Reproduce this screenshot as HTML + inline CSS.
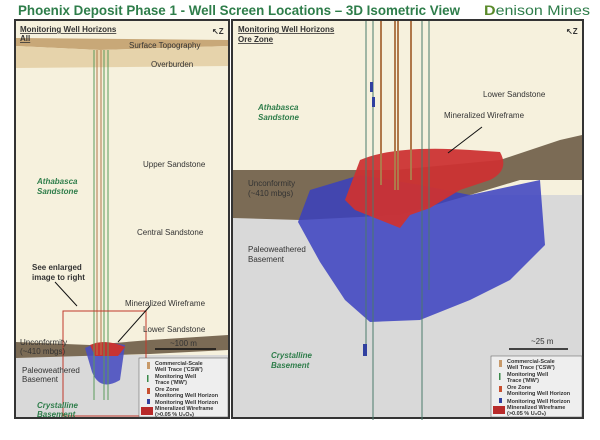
<!DOCTYPE html>
<html><head><style>
body{margin:0;width:600px;height:435px;background:#fff;overflow:hidden;font-family:"Liberation Sans",sans-serif}
</style></head><body>
<svg width="600" height="435" viewBox="0 0 600 435" xmlns="http://www.w3.org/2000/svg" font-family="Liberation Sans, sans-serif">
<text x="18" y="15" font-size="14" font-weight="bold" fill="#2e7d4a" textLength="442" lengthAdjust="spacingAndGlyphs">Phoenix Deposit Phase 1 - Well Screen Locations – 3D Isometric View</text>
<text x="484" y="15" font-size="14" fill="#2e7d4a" textLength="106" lengthAdjust="spacingAndGlyphs"><tspan font-weight="bold" fill="#5a8a2a">D</tspan>enison Mines</text>
<!-- left panel -->
<rect x="14" y="19" width="216" height="400" fill="#333"/>
<rect x="16" y="21" width="212" height="396" fill="#f6f1dd"/>
<path d="M16 38 L228 40 L228 46 L100 50 L16 46Z" fill="#c8a878"/>
<path d="M16 46 L100 50 L228 46 L228 66 L16 68Z" fill="#e6d3ab"/>
<rect x="16" y="355" width="212" height="62" fill="#d9d9d9"/>
<path d="M16 342 L90 345 L150 340 L228 335 L228 350 L150 354 L16 358Z" fill="#7b6b55"/>
<path d="M85 348 Q100 340 125 345 L120 380 Q100 392 92 372Z" fill="#4a4fc0" opacity="0.9"/>
<path d="M90 345 Q105 338 125 347 L118 356 L95 356Z" fill="#c73333"/>
<g stroke-width="1"><line x1="94" y1="50" x2="94" y2="400" stroke="#5a9a5a"/><line x1="97" y1="50" x2="97" y2="355" stroke="#b0784a"/><line x1="101" y1="50" x2="101" y2="355" stroke="#b0784a"/><line x1="104" y1="50" x2="104" y2="400" stroke="#5a9a5a"/><line x1="108" y1="50" x2="108" y2="400" stroke="#5a9a5a"/></g>
<rect x="63" y="311" width="83" height="105" fill="none" stroke="#c0392b" stroke-width="1"/>
<line x1="55" y1="282" x2="77" y2="306" stroke="#111"/>
<line x1="150" y1="306" x2="118" y2="342" stroke="#111"/>
<text x="20" y="32" font-size="8" font-weight="bold" fill="#333" text-decoration="underline">Monitoring Well Horizons</text>
<text x="20" y="41" font-size="8" font-weight="bold" fill="#333" text-decoration="underline">All</text>
<text x="129" y="48" font-size="8" fill="#333">Surface Topography</text>
<text x="151" y="67" font-size="8" fill="#333">Overburden</text>
<text x="143" y="167" font-size="8" fill="#333">Upper Sandstone</text>
<text x="37" y="184" font-size="8" font-weight="bold" font-style="italic" fill="#2e7d4a">Athabasca</text>
<text x="37" y="194" font-size="8" font-weight="bold" font-style="italic" fill="#2e7d4a">Sandstone</text>
<text x="137" y="235" font-size="8" fill="#333">Central Sandstone</text>
<text x="32" y="270" font-size="8" font-weight="bold" fill="#333">See enlarged</text>
<text x="32" y="280" font-size="8" font-weight="bold" fill="#333">image to right</text>
<text x="125" y="306" font-size="8" fill="#333">Mineralized Wireframe</text>
<text x="143" y="332" font-size="8" fill="#333">Lower Sandstone</text>
<text x="20" y="345" font-size="8" fill="#333">Unconformity</text>
<text x="20" y="354" font-size="8" fill="#333">(~410 mbgs)</text>
<line x1="155" y1="349" x2="216" y2="349" stroke="#111" stroke-width="1.5"/>
<text x="170" y="346" font-size="8" fill="#333">~100 m</text>
<text x="22" y="373" font-size="8" fill="#333">Paleoweathered</text>
<text x="22" y="382" font-size="8" fill="#333">Basement</text>
<text x="37" y="408" font-size="8" font-weight="bold" font-style="italic" fill="#2e7d4a">Crystalline</text>
<text x="37" y="417" font-size="8" font-weight="bold" font-style="italic" fill="#2e7d4a">Basement</text>
<g font-size="5.5" font-weight="bold" fill="#333">
<rect x="139" y="358" width="89" height="59" fill="#eee" stroke="#555" stroke-width="0.5"/>
<rect x="147" y="362" width="3" height="7" fill="#c89a6a"/><text x="155" y="365">Commercial-Scale</text><text x="155" y="371">Well Trace ('CSW')</text>
<rect x="147" y="375" width="1.5" height="7" fill="#3a8a4a"/><text x="155" y="378">Monitoring Well</text><text x="155" y="384">Trace ('MW')</text>
<rect x="147" y="388" width="3" height="6" fill="#c85030"/><text x="155" y="391">Ore Zone</text><text x="155" y="397">Monitoring Well Horizon</text>
<rect x="147" y="399" width="3" height="5" fill="#3040a0"/><text x="155" y="404">Monitoring Well Horizon</text>
<rect x="141" y="407" width="12" height="8" fill="#b82a2a"/><text x="155" y="410">Mineralized Wireframe</text><text x="155" y="416">(&gt;0.05 % U₃O₈)</text>
</g>
<!-- right panel -->
<rect x="231" y="19" width="353" height="400" fill="#333"/>
<rect x="233" y="21" width="349" height="396" fill="#f6f1dd"/>
<rect x="233" y="195" width="349" height="222" fill="#d9d9d9"/>
<path d="M233 170 L395 170 L500 160 L560 140 L582 135 L582 180 L520 180 L470 195 L400 215 L300 220 L233 218Z" fill="#7b6b55"/>
<path d="M298 222 L310 190 L360 175 L420 185 L470 195 L540 180 L545 245 L510 280 L470 300 L420 320 L370 322 L345 300 L320 262 Z" fill="#3a3fc0" opacity="0.85"/>
<path d="M360 160 Q395 145 470 150 L500 152 Q510 170 490 180 L460 190 L430 208 L410 215 L400 228 L380 220 L355 210 L345 200Z" fill="#cc3333" opacity="0.95"/>
<g stroke-width="2"><line x1="381" y1="21" x2="381" y2="185" stroke="#b0784a"/><line x1="395" y1="21" x2="395" y2="190" stroke="#b0784a"/><line x1="398" y1="21" x2="398" y2="190" stroke="#b0784a"/><line x1="411" y1="21" x2="411" y2="180" stroke="#b0784a"/></g>
<g stroke-width="1"><line x1="366" y1="21" x2="366" y2="345" stroke="#4a7a6a"/><line x1="373" y1="21" x2="373" y2="420" stroke="#4a7a6a"/><line x1="422" y1="21" x2="422" y2="420" stroke="#4a7a6a"/><line x1="429" y1="21" x2="429" y2="290" stroke="#4a7a6a"/></g>
<rect x="363" y="344" width="4" height="12" fill="#3040a0"/>
<rect x="370" y="82" width="3" height="10" fill="#3040a0"/><rect x="372" y="97" width="3" height="10" fill="#3040a0"/>
<line x1="482" y1="127" x2="448" y2="153" stroke="#111"/>
<text x="238" y="32" font-size="8" font-weight="bold" fill="#333" text-decoration="underline">Monitoring Well Horizons</text>
<text x="238" y="42" font-size="8" font-weight="bold" fill="#333" text-decoration="underline">Ore Zone</text>
<text x="483" y="97" font-size="8" fill="#333">Lower Sandstone</text>
<text x="258" y="110" font-size="8" font-weight="bold" font-style="italic" fill="#2e7d4a">Athabasca</text>
<text x="258" y="120" font-size="8" font-weight="bold" font-style="italic" fill="#2e7d4a">Sandstone</text>
<text x="444" y="118" font-size="8" fill="#333">Mineralized Wireframe</text>
<text x="248" y="186" font-size="8" fill="#333">Unconformity</text>
<text x="248" y="196" font-size="8" fill="#333">(~410 mbgs)</text>
<text x="248" y="252" font-size="8" fill="#333">Paleoweathered</text>
<text x="248" y="262" font-size="8" fill="#333">Basement</text>
<text x="271" y="358" font-size="8" font-weight="bold" font-style="italic" fill="#2e7d4a">Crystalline</text>
<text x="271" y="368" font-size="8" font-weight="bold" font-style="italic" fill="#2e7d4a">Basement</text>
<text x="531" y="344" font-size="8" fill="#333">~25 m</text>
<line x1="509" y1="349" x2="568" y2="349" stroke="#111" stroke-width="1.5"/>
<g font-size="5.5" font-weight="bold" fill="#333">
<rect x="491" y="356" width="91" height="61" fill="#eee" stroke="#555" stroke-width="0.5"/>
<rect x="499" y="360" width="3" height="7" fill="#c89a6a"/><text x="507" y="363">Commercial-Scale</text><text x="507" y="369">Well Trace ('CSW')</text>
<rect x="499" y="373" width="1.5" height="7" fill="#3a8a4a"/><text x="507" y="376">Monitoring Well</text><text x="507" y="382">Trace ('MW')</text>
<rect x="499" y="386" width="3" height="6" fill="#c85030"/><text x="507" y="389">Ore Zone</text><text x="507" y="395">Monitoring Well Horizon</text>
<rect x="499" y="398" width="3" height="5" fill="#3040a0"/><text x="507" y="403">Monitoring Well Horizon</text>
<rect x="493" y="406" width="12" height="8" fill="#b82a2a"/><text x="507" y="409">Mineralized Wireframe</text><text x="507" y="415">(&gt;0.05 % U₃O₈)</text>
</g>
<text x="212" y="34" font-size="8" font-weight="bold" fill="#333">↖Z</text>
<text x="566" y="34" font-size="8" font-weight="bold" fill="#333">↖Z</text>
</svg>
</body></html>
